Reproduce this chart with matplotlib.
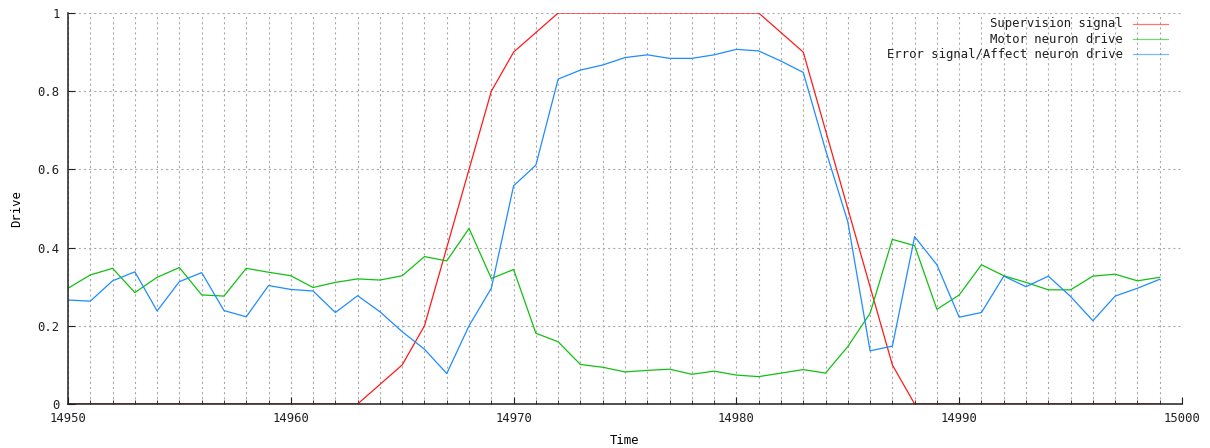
import matplotlib
matplotlib.use("Agg")
import matplotlib.pyplot as plt
from matplotlib.ticker import MultipleLocator, FormatStrFormatter
import numpy as np

plt.rcParams['font.family'] = ['DejaVu Sans Mono']
plt.rcParams['lines.scale_dashes'] = False

time = np.arange(14950, 15000)

supervision = [0, 0, 0, 0, 0, 0, 0, 0, 0, 0,
               0, 0, 0, 0, 0.05, 0.1, 0.2, 0.4, 0.6, 0.8,
               0.9, 0.95, 1.0, 1.0, 1.0, 1.0, 1.0, 1.0, 1.0, 1.0,
               1.0, 1.0, 0.95, 0.9, 0.7, 0.5, 0.3, 0.1, 0, 0,
               0, 0, 0, 0, 0, 0, 0, 0, 0, 0]

motor = [0.296, 0.330, 0.347, 0.285, 0.324, 0.349, 0.279, 0.276, 0.347, 0.337,
         0.328, 0.298, 0.311, 0.320, 0.317, 0.328, 0.377, 0.366, 0.449, 0.321,
         0.344, 0.181, 0.159, 0.101, 0.094, 0.082, 0.086, 0.089, 0.076, 0.084,
         0.074, 0.070, 0.079, 0.088, 0.079, 0.147, 0.232, 0.421, 0.405, 0.242,
         0.279, 0.356, 0.328, 0.311, 0.292, 0.292, 0.327, 0.332, 0.315, 0.324]

error = [0.266, 0.263, 0.315, 0.338, 0.238, 0.313, 0.336, 0.239, 0.223, 0.303,
         0.293, 0.289, 0.234, 0.277, 0.236, 0.185, 0.140, 0.078, 0.200, 0.296,
         0.558, 0.611, 0.831, 0.854, 0.867, 0.886, 0.893, 0.884, 0.884, 0.893,
         0.907, 0.903, 0.877, 0.848, 0.650, 0.466, 0.136, 0.148, 0.428, 0.356,
         0.222, 0.234, 0.327, 0.300, 0.327, 0.275, 0.213, 0.276, 0.296, 0.319]

series = [
    ("Supervision signal", supervision, "#ff1a1a"),
    ("Motor neuron drive", motor, "#12c012"),
    ("Error signal/Affect neuron drive", error, "#1e8cff"),
]

fig = plt.figure(figsize=(12.1, 4.48), dpi=100)
ax = fig.add_axes([68 / 1210, 1 - 404 / 448, 1114 / 1210, 391 / 448])

for label, values, color in series:
    ax.plot(time, values, color=color, linewidth=0.9, zorder=2)

ax.set_xlim(14950, 15000)
ax.set_ylim(0, 1)

ax.xaxis.set_major_locator(MultipleLocator(10))
ax.xaxis.set_minor_locator(MultipleLocator(1))
ax.yaxis.set_major_locator(MultipleLocator(0.2))
ax.yaxis.set_major_formatter(FormatStrFormatter('%g'))

grid_style = dict(color="#a8a8a8", linewidth=0.8, linestyle=(0, (1.5, 2.2)))
ax.grid(True, which='both', axis='x', **grid_style)
ax.grid(True, which='major', axis='y', **grid_style)
ax.set_axisbelow(True)

for side in ('top', 'right'):
    ax.spines[side].set_visible(False)
for side in ('left', 'bottom'):
    ax.spines[side].set_linewidth(1.1)
    ax.spines[side].set_color('#202020')
    ax.spines[side].set_zorder(3)

ax.tick_params(axis='both', which='major', direction='in', length=5, width=0.8,
               labelsize=8.8, pad=6, colors='#202020')
ax.tick_params(axis='x', which='minor', direction='in', length=3, width=0.6,
               colors='#202020')

ax.set_xlabel("Time", fontsize=8.8)
ax.set_ylabel("Drive", fontsize=8.8)
ax.xaxis.set_label_coords(0.5, (404 - 434) / 391)
ax.yaxis.set_label_coords((23 - 68) / 1114, 0.5)

# key in the upper right, text right-aligned before its line sample
key_rows = [0.972, 0.933, 0.895]
for (label, values, color), ky in zip(series, key_rows):
    ax.text(0.947, ky, label, transform=ax.transAxes, ha='right', va='center',
            fontsize=8.8, color='#202020')
    ax.plot([0.956, 0.987], [ky, ky], transform=ax.transAxes, color=color,
            linewidth=0.9, alpha=0.6, clip_on=False)

fig.savefig("out.png", dpi=100)
